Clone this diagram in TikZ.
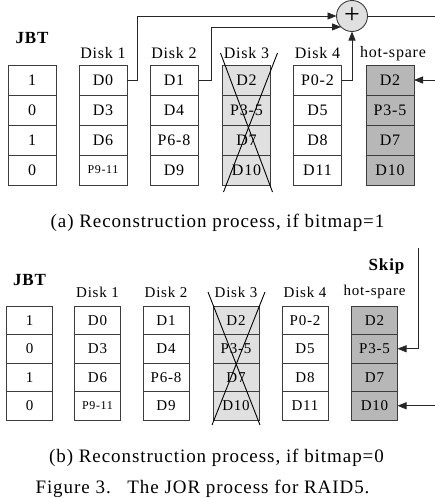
\documentclass[tikz,border=0pt]{standalone}
\usepackage{fontspec}
\setmainfont[LetterSpace=5]{Liberation Serif}
\usepackage{xcolor}
\usetikzlibrary{arrows.meta, positioning, calc}
\definecolor{cellline}{HTML}{3C3C3C}
\definecolor{failbg}{HTML}{E0E0E0}
\definecolor{sparebg}{HTML}{B7B7B7}

\begin{document}
\begin{tikzpicture}[
  x=1pt, y=-1pt,
  every node/.style={font=\fontsize{16}{18}\selectfont, inner sep=0pt, outer sep=0pt},
  cella/.style={
    rectangle, draw=cellline, line width=0.9pt,
    minimum width=48pt, minimum height=30pt, anchor=north
  },
  cellb/.style={
    rectangle, draw=cellline, line width=0.9pt,
    minimum width=46pt, minimum height=28.5pt, anchor=north,
    font=\fontsize{15}{17}\selectfont
  },
  failed/.style={fill=failbg},
  spare/.style={fill=sparebg},
  small/.style={font=\fontsize{12}{14}\selectfont},
  lbl/.style={anchor=base},
  captext/.style={anchor=base, font=\fontsize{19}{22}\selectfont},
  arr/.style={-{Triangle[length=9pt, width=7pt]}, draw=black!85, line width=0.8pt},
  cross/.style={draw=black, line width=0.9pt}
]
\clip (0,0) rectangle (435,498);

% (a) bitmap = 1
\node[cella] (a0r1) at (32,65) {1};
\node[cella, below=0pt of a0r1] (a0r2) {0};
\node[cella, below=0pt of a0r2] (a0r3) {1};
\node[cella, below=0pt of a0r3] (a0r4) {0};

\node[cella] (a1r1) at (103,65) {D0};
\node[cella, below=0pt of a1r1] (a1r2) {D3};
\node[cella, below=0pt of a1r2] (a1r3) {D6};
\node[cella, below=0pt of a1r3, small] (a1r4) {P9-11};

\node[cella] (a2r1) at (174,65) {D1};
\node[cella, below=0pt of a2r1] (a2r2) {D4};
\node[cella, below=0pt of a2r2] (a2r3) {P6-8};
\node[cella, below=0pt of a2r3] (a2r4) {D9};

\node[cella, failed] (a3r1) at (246.5,65) {D2};
\node[cella, failed, below=0pt of a3r1] (a3r2) {P3-5};
\node[cella, failed, below=0pt of a3r2] (a3r3) {D7};
\node[cella, failed, below=0pt of a3r3] (a3r4) {D10};

\node[cella] (a4r1) at (317.5,65) {P0-2};
\node[cella, below=0pt of a4r1] (a4r2) {D5};
\node[cella, below=0pt of a4r2] (a4r3) {D8};
\node[cella, below=0pt of a4r3] (a4r4) {D11};

\node[cella, spare] (a5r1) at (390,65) {D2};
\node[cella, spare, below=0pt of a5r1] (a5r2) {P3-5};
\node[cella, spare, below=0pt of a5r2] (a5r3) {D7};
\node[cella, spare, below=0pt of a5r3] (a5r4) {D10};

\node[lbl, above=22pt of a0r1, anchor=base, font=\fontsize{17}{19}\selectfont\bfseries] (jbta) {JBT};
\node[lbl, above=7pt of a1r1, anchor=base] (disk1a) {Disk 1};
\node[lbl, above=7pt of a2r1, anchor=base] (disk2a) {Disk 2};
\node[lbl, above=7pt of a3r1, anchor=base] (disk3a) {Disk 3};
\node[lbl, above=7pt of a4r1, anchor=base] (disk4a) {Disk 4};
\node[lbl, above=8pt of a5r1, anchor=base, xshift=3pt] (hsa) {hot-spare};

\node[circle, draw=cellline, fill=failbg, line width=0.9pt, minimum size=31pt,
      font=\fontsize{28}{28}\selectfont] (sum) at (352,16) {+};

\coordinate (aloop) at (450,16);

\draw[arr] (a1r1.east) -- ++(10,0) |- (sum.west);
\draw[arr] (a2r1.east) -- ++(13,0) |- (sum.225);
\draw[arr] (a4r1.east) -| (sum.south);
\draw[arr] (sum.east) -- (aloop) |- (a5r1.east);

\draw[cross] ($(a3r1.north west)+(-2,-12)$) -- ($(a3r4.south east)+(2,7)$);
\draw[cross] ($(a3r1.north east)+(7,-12)$) -- ($(a3r4.south west)+(1,7)$);

\node[captext] (capa) at (217.5,227) {(a) Reconstruction process, if bitmap=1};

% (b) bitmap = 0
\node[cellb] (b0r1) at (29.5,306) {1};
\node[cellb, below=0pt of b0r1] (b0r2) {0};
\node[cellb, below=0pt of b0r2] (b0r3) {1};
\node[cellb, below=0pt of b0r3] (b0r4) {0};

\node[cellb] (b1r1) at (97.5,306) {D0};
\node[cellb, below=0pt of b1r1] (b1r2) {D3};
\node[cellb, below=0pt of b1r2] (b1r3) {D6};
\node[cellb, below=0pt of b1r3, small] (b1r4) {P9-11};

\node[cellb] (b2r1) at (166,306) {D1};
\node[cellb, below=0pt of b2r1] (b2r2) {D4};
\node[cellb, below=0pt of b2r2] (b2r3) {P6-8};
\node[cellb, below=0pt of b2r3] (b2r4) {D9};

\node[cellb, failed] (b3r1) at (236,306) {D2};
\node[cellb, failed, below=0pt of b3r1] (b3r2) {P3-5};
\node[cellb, failed, below=0pt of b3r2] (b3r3) {D7};
\node[cellb, failed, below=0pt of b3r3] (b3r4) {D10};

\node[cellb] (b4r1) at (305,306) {P0-2};
\node[cellb, below=0pt of b4r1] (b4r2) {D5};
\node[cellb, below=0pt of b4r2] (b4r3) {D8};
\node[cellb, below=0pt of b4r3] (b4r4) {D11};

\node[cellb, spare] (b5r1) at (374.5,306) {D2};
\node[cellb, spare, below=0pt of b5r1] (b5r2) {P3-5};
\node[cellb, spare, below=0pt of b5r2] (b5r3) {D7};
\node[cellb, spare, below=0pt of b5r3] (b5r4) {D10};

\node[lbl, above=21pt of b0r1, anchor=base, font=\fontsize{17}{19}\selectfont\bfseries] (jbtb) {JBT};
\node[lbl, above=9pt of b1r1, anchor=base, font=\fontsize{15}{17}\selectfont] (disk1b) {Disk 1};
\node[lbl, above=9pt of b2r1, anchor=base, font=\fontsize{15}{17}\selectfont] (disk2b) {Disk 2};
\node[lbl, above=9pt of b3r1, anchor=base, font=\fontsize{15}{17}\selectfont] (disk3b) {Disk 3};
\node[lbl, above=9pt of b4r1, anchor=base, font=\fontsize{15}{17}\selectfont] (disk4b) {Disk 4};
\node[lbl, above=11pt of b5r1, anchor=base, font=\fontsize{15}{17}\selectfont] (hsb) {hot-spare};
\node[lbl, above=25pt of hsb.base, anchor=base, xshift=12pt,
      font=\fontsize{17}{19}\selectfont\bfseries] (skip) {Skip};

\coordinate (skiptop) at (418,248);
\coordinate (bin) at (440,405);

\draw[arr] (skiptop) |- (b5r2.east);
\draw[arr] (bin |- b5r4.east) -- (b5r4.east);

\draw[cross] ($(b3r1.north west)+(-5,-14)$) -- ($(b3r4.south east)+(1,5)$);
\draw[cross] ($(b3r1.north east)+(6,-14)$) -- ($(b3r4.south west)+(-1,5)$);

\node[captext] (capb) at (216.5,462) {(b) Reconstruction process, if bitmap=0};
\node[captext] (fig) at (202.5,493) {Figure 3.\hspace{9pt} The JOR process for RAID5.};
\end{tikzpicture}
\end{document}
